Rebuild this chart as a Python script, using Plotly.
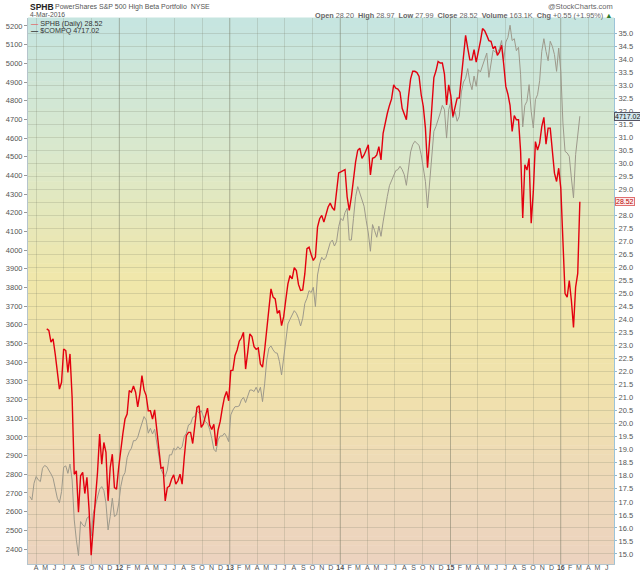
import pandas as pd
import plotly.graph_objects as go

# $COMPQ weekly closes (left axis), first week 2011-03-11
compq = [
    2681, 2663, 2752, 2788, 2770, 2761, 2832, 2847, 2841, 2823,
    2802, 2779, 2725, 2672, 2648, 2707, 2838, 2845, 2805, 2855,
    2770, 2556, 2449, 2365, 2547, 2529, 2520, 2565, 2574, 2470,
    2591, 2636, 2689, 2720, 2734, 2713, 2645, 2502, 2574, 2672,
    2574, 2582, 2641, 2734, 2788, 2809, 2889, 2921, 2939, 2980,
    2980, 2998, 3037, 3077, 3109, 3091, 3020, 3046, 3016, 3041,
    2966, 2913, 2827, 2802, 2788, 2823, 2904, 2904, 2939, 2930,
    2948, 2934, 2948, 3002, 3020, 3064, 3070, 3105, 3109, 3141,
    3127, 3141, 3105, 3082, 3073, 3041, 2993, 2934, 2921, 2984,
    3005, 3005, 3020, 3002, 2975, 3118, 3144, 3162, 3162, 3166,
    3198, 3212, 3184, 3216, 3251, 3251, 3243, 3266, 3237, 3266,
    3189, 3284, 3412, 3475, 3487, 3466, 3451, 3448, 3403, 3332,
    3426, 3510, 3605, 3630, 3658, 3676, 3662, 3635, 3594, 3635,
    3715, 3742, 3783, 3773, 3801, 3698, 3867, 3926, 3962, 3947,
    3962, 4001, 4040, 4054, 4022, 4046, 4126, 4170, 4158, 4201,
    4224, 4054, 4054, 4170, 4286, 4340, 4302, 4274, 4235, 4160,
    4092, 3994, 4137, 4104, 4069, 4128, 4074, 4151, 4229, 4288,
    4345, 4369, 4393, 4426, 4431, 4449, 4431, 4404, 4347, 4440,
    4526, 4565, 4583, 4572, 4561, 4511, 4449, 4368, 4226, 4360,
    4533, 4636, 4663, 4693, 4734, 4775, 4752, 4600, 4752, 4793,
    4708, 4743, 4690, 4716, 4847, 4900, 4920, 4972, 4900, 4859,
    4932, 4877, 4966, 4954, 4989, 5025, 5055, 4925, 5011, 5071,
    5061, 5055, 5079, 5122, 5014, 5114, 5139, 5204, 5122, 5132,
    5068, 5086, 4939, 4660, 4775, 4797, 4886, 4743, 4654, 4806,
    4832, 4907, 5064, 5132, 5064, 5014, 5118, 5091, 5047, 4957,
    5082, 4957, 4681, 4529, 4520, 4502, 4386, 4280, 4511, 4636,
    4717.02,
]

# SPHB weekly closes (right axis), first week 2011-05-06
sphb = [
    23.64, 23.58,
    23.13, 23.26, 22.68, 21.97, 21.33, 21.59, 22.87, 22.81, 21.97, 22.68,
    21.01, 18.06, 18.19, 16.60, 18.00, 18.13, 17.32, 17.94, 16.72, 14.95,
    15.88, 17.10, 18.13, 19.60, 18.45, 19.28, 18.90, 17.04, 18.32, 18.83,
    17.55, 17.49, 18.32, 19.09, 19.63, 20.18, 20.37, 21.27, 21.21, 21.45,
    21.21, 20.65, 21.14, 21.85, 21.30, 21.08, 20.50, 20.50, 20.18, 20.53,
    19.73, 19.19, 18.30, 18.32, 17.04, 17.55, 17.61, 17.87, 18.04, 17.68,
    17.81, 18.06, 17.68, 18.71, 19.54, 19.67, 19.67, 19.24, 19.86, 20.63,
    20.69, 19.86, 19.98, 20.31, 20.60, 19.96, 19.78, 19.98, 19.15, 19.76,
    20.09, 20.60, 21.01, 21.24, 20.88, 22.04, 22.06, 22.62, 22.83, 23.17,
    23.29, 23.51, 22.10, 22.74, 23.45, 23.35, 22.96, 22.86, 22.91, 22.29,
    22.17, 22.83, 23.64, 24.60, 25.18, 24.86, 24.79, 24.24, 24.35, 23.77,
    24.11, 24.76, 25.37, 25.69, 25.56, 25.99, 25.88, 25.35, 25.12, 25.14,
    25.76, 26.72, 26.78, 26.50, 26.27, 26.40, 27.55, 27.87, 28.00, 27.74,
    28.00, 28.32, 28.47, 28.29, 28.19, 28.99, 29.63, 29.67, 29.73, 29.76,
    28.71, 28.19, 28.71, 29.50, 30.05, 30.50, 30.58, 30.19, 30.32, 30.51,
    30.71, 29.55, 30.19, 30.22, 30.32, 30.64, 30.13, 31.15, 31.60, 31.92,
    32.22, 32.47, 33.01, 32.88, 32.85, 32.73, 32.11, 31.86, 31.67, 32.56,
    33.24, 33.53, 33.53, 33.48, 33.33, 32.63, 32.18, 31.35, 29.83, 30.90,
    32.31, 33.29, 33.55, 33.91, 33.85, 33.85, 33.42, 32.24, 33.01, 32.60,
    31.80, 32.12, 32.50, 32.50, 33.37, 34.17, 34.91, 34.42, 33.97, 33.97,
    34.36, 33.88, 34.23, 34.68, 35.17, 35.09, 34.91, 34.71, 34.68, 34.40,
    34.49, 34.14, 34.27, 34.53, 33.81, 32.95, 32.65, 32.22, 31.22, 31.83,
    31.67, 31.67, 30.45, 27.90, 29.94, 29.74, 30.19, 27.70, 28.91, 30.83,
    30.51, 30.77, 31.41, 31.76, 30.73, 31.35, 31.35, 30.51, 29.62, 29.30,
    29.81, 29.04, 26.60, 25.00, 24.86, 25.50, 24.73, 23.70, 25.24, 25.77,
    28.52,
]

compq_dates = pd.date_range("2011-03-11", periods=len(compq), freq="7D")
sphb_dates = pd.date_range("2011-05-06", periods=len(sphb), freq="7D")

month_letters = ["J", "F", "M", "A", "M", "J", "J", "A", "S", "O", "N", "D"]
tick_months = pd.date_range("2011-04-01", "2016-06-01", freq="MS")
tick_text = ["<b>%02d</b>" % (d.year % 100) if d.month == 1 else month_letters[d.month - 1]
             for d in tick_months]
year_starts = [d for d in tick_months if d.month == 1]

left_ticks = list(range(2400, 5201, 100))
right_ticks = [15.0 + 0.5 * i for i in range(41)]

W, H = 640, 576
L, R, T, B = 28, 26, 18, 12
FONT = "Liberation Sans, Arial, sans-serif"


def px(x):
    return (x - L) / (W - L - R)


def py(y):
    return (H - B - y) / (H - T - B)


# background gradient (top -> bottom)
stops = [(0.0, (197, 229, 225)), (0.25, (218, 232, 204)), (0.48, (240, 231, 170)),
         (0.68, (240, 226, 172)), (0.85, (238, 217, 185)), (1.0, (236, 211, 191))]


def grad(f):
    for (f0, c0), (f1, c1) in zip(stops[:-1], stops[1:]):
        if f <= f1:
            t = (f - f0) / (f1 - f0)
            return "rgb(%d,%d,%d)" % tuple(round(a + (b - a) * t) for a, b in zip(c0, c1))
    return "rgb(%d,%d,%d)" % stops[-1][1]


shapes = []
n = 60
for i in range(n):
    shapes.append(dict(type="rect", xref="paper", yref="paper", x0=0, x1=1,
                       y0=1 - (i + 1) / n, y1=1 - i / n + 0.001,
                       fillcolor=grad((i + 0.5) / n), line=dict(width=0), layer="below"))
for d in year_starts:
    shapes.append(dict(type="line", xref="x", yref="paper", x0=d, x1=d, y0=0, y1=1,
                       line=dict(color="rgba(110,110,90,0.33)", width=1), layer="between"))

fig = go.Figure()
fig.add_trace(go.Scatter(x=compq_dates, y=compq, mode="lines", name="$COMPQ",
                         line=dict(color="#9d998b", width=1), yaxis="y"))
fig.add_trace(go.Scatter(x=sphb_dates, y=sphb, mode="lines", name="SPHB",
                         line=dict(color="#e3000f", width=1.4), yaxis="y2"))

grid = "rgba(120,125,100,0.22)"
tickfont = dict(family=FONT, size=7.5, color="#555")

annotations = [
    dict(xref="paper", yref="paper", x=px(28), y=py(6.5), xanchor="left", yanchor="middle",
         text="<b>SPHB</b>", showarrow=False, font=dict(family=FONT, size=8.5, color="#222")),
    dict(xref="paper", yref="paper", x=px(53), y=py(7), xanchor="left", yanchor="middle",
         text="PowerShares S&P 500 High Beta Portfolio  NYSE", showarrow=False,
         font=dict(family=FONT, size=7, color="#555")),
    dict(xref="paper", yref="paper", x=px(28), y=py(14.3), xanchor="left", yanchor="middle",
         text="4-Mar-2016", showarrow=False, font=dict(family=FONT, size=6.8, color="#555")),
    dict(xref="paper", yref="paper", x=px(615), y=py(6), xanchor="right", yanchor="middle",
         text="@StockCharts.com", showarrow=False, font=dict(family=FONT, size=7.5, color="#666")),
    dict(xref="paper", yref="paper", x=px(615), y=py(15), xanchor="right", yanchor="middle",
         text="<b>Open</b> 28.20  <b>High</b> 28.97  <b>Low</b> 27.99  <b>Close</b> 28.52  "
              "<b>Volume</b> 163.1K  <b>Chg</b> +0.55 (+1.95%) <span style='color:#2d7a2d'>▲</span>",
         showarrow=False, font=dict(family=FONT, size=7.3, color="#666")),
    dict(xref="paper", yref="paper", x=px(29), y=py(23.3), xanchor="left", yanchor="middle",
         text="<span style='color:#e07070'><b>—</b></span> SPHB (Daily) %.2f" % sphb[-1],
         showarrow=False, font=dict(family=FONT, size=7.2, color="#333")),
    dict(xref="paper", yref="paper", x=px(29), y=py(30), xanchor="left", yanchor="middle",
         text="<b>—</b> $COMPQ %.2f" % compq[-1],
         showarrow=False, font=dict(family=FONT, size=7.2, color="#333")),
    dict(xref="paper", yref="y", x=1, y=compq[-1], xanchor="left", yanchor="middle",
         text="%.2f" % compq[-1], showarrow=False,
         font=dict(family=FONT, size=7, color="#111"),
         bgcolor="#d3e6ee", bordercolor="#556", borderwidth=1, borderpad=0),
    dict(xref="paper", yref="y2", x=1, y=sphb[-1], xanchor="left", yanchor="middle",
         text="%.2f" % sphb[-1], showarrow=False, xshift=1,
         font=dict(family=FONT, size=7, color="#b00"),
         bgcolor="#fbecec", bordercolor="#e07070", borderwidth=1, borderpad=0),
]

fig.update_layout(
    width=W, height=H,
    margin=dict(l=L, r=R, t=T, b=B),
    paper_bgcolor="white",
    plot_bgcolor="rgba(0,0,0,0)",
    showlegend=False,
    font=dict(family=FONT, size=7.5, color="#555"),
    shapes=shapes,
    annotations=annotations,
    xaxis=dict(
        type="date", range=["2011-03-05", "2016-06-25"],
        tickmode="array", tickvals=list(tick_months), ticktext=tick_text,
        ticks="", tickfont=dict(family=FONT, size=7, color="#555"),
        ticklabelstandoff=-3,
        showgrid=False, zeroline=False, showline=True, linecolor="#b5c4cc",
        minor=dict(dtick="M3", tick0="2011-01-01", showgrid=True, gridcolor=grid, ticks=""),
        automargin=False,
    ),
    yaxis=dict(
        range=[2319.7, 5242.8], tickmode="array", tickvals=left_ticks,
        ticks="outside", ticklen=3, tickcolor="#999", tickfont=tickfont,
        showgrid=False, zeroline=False, showline=True, linecolor="#b5c4cc",
        automargin=False,
    ),
    yaxis2=dict(
        overlaying="y", side="right", range=[14.615, 35.577],
        tickmode="array", tickvals=right_ticks, ticktext=["%.1f" % v for v in right_ticks],
        ticks="outside", ticklen=2, tickcolor="#8fb8d0", tickfont=tickfont,
        showgrid=True, gridcolor=grid, zeroline=False, showline=True, linecolor="#9cc3d8",
        automargin=False,
    ),
)

fig.write_html("out.html", config={"displayModeBar": False},
               post_script="document.body.style.margin='0';")
